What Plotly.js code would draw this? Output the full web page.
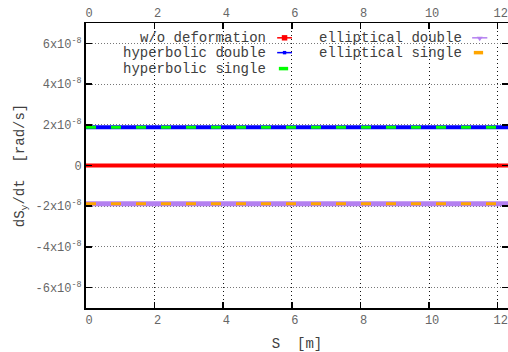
<!DOCTYPE html>
<html>
<head>
<meta charset="utf-8">
<script src="https://cdn.plot.ly/plotly-3.0.1.min.js"></script>
<style>html,body{margin:0;padding:0;overflow:hidden;background:#fff;}</style>
</head>
<body>
<div id="chart" style="width:508px;height:352px;"></div>
<script>
// S positions along the beam [m]
const sPos = [0, 1, 2, 3, 4, 5, 6, 7, 8, 9, 10, 11, 12, 12.3];
// dS_y/dt [rad/s] for each configuration
const woDeformation    = [0, 0, 0, 0, 0, 0, 0, 0, 0, 0, 0, 0, 0, 0];
const hyperbolicDouble = [1.88e-8, 1.88e-8, 1.88e-8, 1.88e-8, 1.88e-8, 1.88e-8, 1.88e-8, 1.88e-8, 1.88e-8, 1.88e-8, 1.88e-8, 1.88e-8, 1.88e-8, 1.88e-8];
const hyperbolicSingle = [1.88e-8, 1.88e-8, 1.88e-8, 1.88e-8, 1.88e-8, 1.88e-8, 1.88e-8, 1.88e-8, 1.88e-8, 1.88e-8, 1.88e-8, 1.88e-8, 1.88e-8, 1.88e-8];
const ellipticalDouble = [-1.88e-8, -1.88e-8, -1.88e-8, -1.88e-8, -1.88e-8, -1.88e-8, -1.88e-8, -1.88e-8, -1.88e-8, -1.88e-8, -1.88e-8, -1.88e-8, -1.88e-8, -1.88e-8];
const ellipticalSingle = [-1.88e-8, -1.88e-8, -1.88e-8, -1.88e-8, -1.88e-8, -1.88e-8, -1.88e-8, -1.88e-8, -1.88e-8, -1.88e-8, -1.88e-8, -1.88e-8, -1.88e-8, -1.88e-8];

const seriesNames = ['w/o deformation', 'hyperbolic double', 'hyperbolic single', 'elliptical double', 'elliptical single'];

const xTickVals = [0, 2, 4, 6, 8, 10, 12];
const xTickText = ['0', '2', '4', '6', '8', '10', '12'];
const yTickVals = [-6e-8, -4e-8, -2e-8, 0, 2e-8, 4e-8, 6e-8];
const yTickText = ['-6x10<sup>-8</sup>', '-4x10<sup>-8</sup>', '-2x10<sup>-8</sup>', '0', '2x10<sup>-8</sup>', '4x10<sup>-8</sup>', '6x10<sup>-8</sup>'];

const MONO = 'Liberation Mono, Courier New, monospace';
const RED = '#ff0000', BLUE = '#0000ff', GREEN = '#00ff00', PURPLE = '#b480f0', ORANGE = '#ffa500';

const traces = [
  {x: sPos, y: woDeformation, name: seriesNames[0], mode: 'lines', line: {color: RED, width: 4}},
  {x: sPos, y: hyperbolicDouble, name: seriesNames[1], mode: 'lines', line: {color: BLUE, width: 4}},
  {x: sPos, y: hyperbolicSingle, name: seriesNames[2], mode: 'lines', line: {color: GREEN, width: 3, dash: '10px,15px'}},
  {x: sPos, y: ellipticalDouble, name: seriesNames[3], mode: 'lines', line: {color: PURPLE, width: 5}},
  {x: sPos, y: ellipticalSingle, name: seriesNames[4], mode: 'lines', line: {color: ORANGE, width: 3, dash: '10px,15px'}},
  {x: sPos, y: woDeformation, xaxis: 'x2', mode: 'lines', line: {color: 'rgba(0,0,0,0)', width: 0}, hoverinfo: 'skip', showlegend: false}
];

// custom gnuplot-style key (text then sample), in paper coordinates
const rowY = [0.948, 0.896, 0.840];
const col1TextX = 0.429, col1S0 = 0.453, col1S1 = 0.488, col1M = 0.4705;
const col2TextX = 0.8945, col2S0 = 0.915, col2S1 = 0.951, col2M = 0.933;
const keyItems = [
  {text: seriesNames[0], tx: col1TextX, s0: col1S0, s1: col1S1, m: col1M, y: rowY[0], color: RED, width: 1.5, marker: 'square'},
  {text: seriesNames[1], tx: col1TextX, s0: col1S0, s1: col1S1, m: col1M, y: rowY[1], color: BLUE, width: 1.5, marker: 'dot'},
  {text: seriesNames[2], tx: col1TextX, s0: col1S0 + 0.004, s1: col1S0 + 0.026, m: null, y: rowY[2], color: GREEN, width: 3.5, marker: null},
  {text: seriesNames[3], tx: col2TextX, s0: col2S0, s1: col2S1, m: col2M, y: rowY[0], color: PURPLE, width: 1.5, marker: 'tri'},
  {text: seriesNames[4], tx: col2TextX, s0: col2S0 + 0.004, s1: col2S0 + 0.026, m: null, y: rowY[1], color: ORANGE, width: 3.5, marker: null}
];

const annotations = [];
const shapes = [
  {type: 'rect', xref: 'paper', yref: 'paper', x0: 0.04, x1: 0.971, y0: 0.822, y1: 0.99,
   fillcolor: '#ffffff', line: {width: 0}, layer: 'between'}
];
keyItems.forEach(k => {
  annotations.push({xref: 'paper', yref: 'paper', x: k.tx, y: k.y, xanchor: 'right', yanchor: 'middle',
    text: k.text, showarrow: false, borderpad: 0, font: {family: MONO, size: 14, color: '#404040'}});
  shapes.push({type: 'line', xref: 'paper', yref: 'paper', x0: k.s0, x1: k.s1, y0: k.y, y1: k.y,
    line: {color: k.color, width: k.width}});
  if (k.marker === 'square') {
    shapes.push({type: 'rect', xref: 'paper', yref: 'paper', x0: k.m - 0.0065, x1: k.m + 0.0065, y0: k.y - 0.0095, y1: k.y + 0.0095,
      fillcolor: k.color, line: {width: 0}});
  } else if (k.marker === 'dot') {
    shapes.push({type: 'rect', xref: 'paper', yref: 'paper', x0: k.m - 0.004, x1: k.m + 0.004, y0: k.y - 0.006, y1: k.y + 0.006,
      fillcolor: k.color, line: {width: 0}});
  } else if (k.marker === 'tri') {
    shapes.push({type: 'path', xref: 'paper', yref: 'paper',
      path: 'M ' + (k.m - 0.007) + ' ' + (k.y + 0.004) + ' L ' + (k.m + 0.007) + ' ' + (k.y + 0.004) + ' L ' + k.m + ' ' + (k.y - 0.012) + ' Z',
      fillcolor: k.color, line: {width: 0}});
  }
});

const layout = {
  width: 508, height: 352,
  margin: {l: 86, r: 0, t: 23, b: 44, pad: 0},
  paper_bgcolor: '#ffffff', plot_bgcolor: '#ffffff',
  showlegend: false,
  font: {family: MONO, color: '#555555'},
  xaxis: {
    range: [0, 12.3], tickvals: xTickVals, ticktext: xTickText,
    ticks: 'inside', ticklen: 6, tickwidth: 1.5, tickcolor: '#000',
    showline: true, linecolor: '#000', linewidth: 1.5, mirror: false,
    showgrid: true, gridcolor: '#111111', griddash: '1px,3px', gridwidth: 1,
    zeroline: false, ticklabelshift: 3,
    tickfont: {family: MONO, size: 12, color: '#666666'},
    title: {text: 'S\u00a0\u00a0[m]', font: {family: MONO, size: 14, color: '#404040'}, standoff: 11}
  },
  xaxis2: {
    overlaying: 'x', side: 'top', anchor: 'y', matches: 'x',
    range: [0, 12.3], tickvals: xTickVals, ticktext: xTickText,
    ticks: 'inside', ticklen: 6, tickwidth: 1.5, tickcolor: '#000',
    showline: true, linecolor: '#000', linewidth: 1.5,
    showgrid: false, zeroline: false, ticklabelshift: 3,
    tickfont: {family: MONO, size: 12, color: '#666666'}
  },
  yaxis: {
    range: [-7e-8, 7e-8], tickvals: yTickVals, ticktext: yTickText,
    ticks: 'inside', ticklen: 6, tickwidth: 1.5, tickcolor: '#000',
    showline: true, linecolor: '#000', linewidth: 2, mirror: 'ticks',
    showgrid: true, gridcolor: '#777777', griddash: '1px,2px', gridwidth: 1,
    zeroline: false,
    tickfont: {family: MONO, size: 12, color: '#666666'},
    title: {text: 'dS<sub>y</sub>/dt\u00a0\u00a0[rad/s]', font: {family: MONO, size: 14, color: '#404040'}, standoff: 8}
  },
  annotations: annotations,
  shapes: shapes
};

Plotly.newPlot('chart', traces, layout, {displayModeBar: false, staticPlot: true});
</script>
</body>
</html>
